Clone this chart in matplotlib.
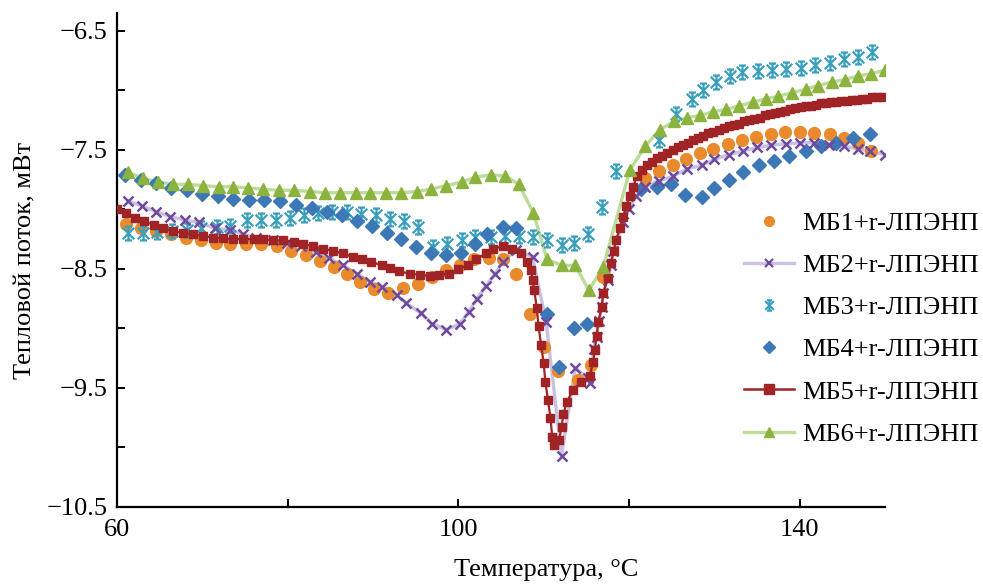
import matplotlib
matplotlib.use("Agg")
import matplotlib.pyplot as plt
from matplotlib.path import Path
from matplotlib.lines import Line2D

plt.rcParams['font.family'] = ['Liberation Serif', 'DejaVu Serif']

# ---------------- data ----------------
labels = ["МБ1+r-ЛПЭНП", "МБ2+r-ЛПЭНП", "МБ3+r-ЛПЭНП",
          "МБ4+r-ЛПЭНП", "МБ5+r-ЛПЭНП", "МБ6+r-ЛПЭНП"]

t1 = [61.1, 62.8, 64.6, 66.3, 68.1, 69.8, 71.6, 73.3, 75.1, 76.9, 78.7, 80.4, 82.1,
      83.8, 85.4, 87.0, 88.5, 90.1, 91.8, 93.5, 95.3, 96.9, 98.5, 100.2, 101.8, 103.6,
      105.2, 106.8, 108.4, 110.0, 111.7, 114.0, 115.5, 116.9, 121.9, 123.5, 125.1,
      126.7, 128.3, 129.9, 131.6, 133.3, 134.9, 136.6, 138.3, 140.0, 141.7, 143.5,
      145.2, 146.8, 148.4]
v1 = [-8.12, -8.16, -8.18, -8.21, -8.24, -8.26, -8.28, -8.29, -8.29, -8.29, -8.31, -8.35,
      -8.38, -8.43, -8.48, -8.54, -8.61, -8.67, -8.70, -8.66, -8.63, -8.57, -8.51, -8.47,
      -8.42, -8.41, -8.42, -8.54, -8.88, -9.16, -9.36, -9.43, -9.31, -8.57, -7.74, -7.68,
      -7.63, -7.58, -7.53, -7.49, -7.45, -7.42, -7.39, -7.37, -7.35, -7.35, -7.36, -7.37,
      -7.40, -7.44, -7.51]

t2 = [61.3, 62.9, 64.6, 66.2, 68.0, 69.6, 71.5, 73.2, 74.8, 76.3, 78.3, 79.9, 81.6,
      83.3, 84.9, 86.5, 88.1, 89.7, 91.1, 92.8, 93.9, 95.6, 96.9, 98.6, 100.2, 101.2,
      102.2, 103.3, 104.3, 105.2, 106.8, 108.7, 110.3, 112.1, 113.7, 115.2, 115.4, 115.9,
      116.2, 116.5, 116.8, 117.0, 117.5, 117.9, 118.1, 119.3, 120.0, 120.8, 121.9, 123.5,
      125.2, 126.8, 128.5, 130.0, 131.7, 133.4, 135.0, 136.7, 138.4, 140.0, 141.7, 143.4,
      145.2, 146.8, 148.2, 150.0]
v2 = [-7.93, -7.97, -8.02, -8.06, -8.09, -8.11, -8.16, -8.17, -8.21, -8.24, -8.26,
      -8.28, -8.31, -8.36, -8.41, -8.47, -8.54, -8.61, -8.65, -8.72, -8.79, -8.87, -8.96,
      -9.01, -8.96, -8.86, -8.75, -8.64, -8.54, -8.44, -8.34, -8.40, -8.95, -10.07, -9.33,
      -9.42, -9.46, -9.17, -9.07, -8.94, -8.82, -8.70, -8.59, -8.47, -8.35, -8.11, -8.00,
      -7.89, -7.81, -7.76, -7.72, -7.66, -7.63, -7.58, -7.54, -7.51, -7.48, -7.46, -7.45,
      -7.44, -7.44, -7.46, -7.47, -7.49, -7.51, -7.54]

t3 = [61.3, 63.0, 64.7, 66.5, 68.2, 69.9, 71.7, 73.3, 75.2, 76.9, 78.6, 80.3, 81.9, 83.6,
      85.2, 86.9, 88.6, 90.3, 92.0, 93.6, 95.3, 97.0, 98.7, 100.4, 102.0, 103.8, 105.5,
      107.1, 108.7, 110.4, 112.1, 113.6, 115.2, 116.8, 118.5, 123.5, 125.5, 127.4, 128.7,
      130.2, 131.8, 133.3, 135.1, 136.8, 138.4, 140.2, 141.8, 143.5, 145.2, 146.8, 148.5]
v3 = [-8.20, -8.20, -8.19, -8.18, -8.17, -8.16, -8.15, -8.14, -8.09, -8.09, -8.09, -8.07,
      -8.05, -8.03, -8.02, -8.02, -8.04, -8.05, -8.08, -8.10, -8.15, -8.32, -8.29, -8.26,
      -8.23, -8.23, -8.22, -8.22, -8.23, -8.26, -8.30, -8.28, -8.21, -7.98, -7.68, -7.42,
      -7.20, -7.07, -7.00, -6.93, -6.88, -6.85, -6.84, -6.83, -6.82, -6.81, -6.79, -6.77,
      -6.74, -6.72, -6.68]

t4 = [60.9, 62.8, 64.6, 66.3, 68.2, 70.0, 71.8, 73.6, 75.5, 77.2, 79.1, 81.0, 82.8, 84.6,
      86.4, 88.1, 89.9, 91.6, 93.3, 95.0, 96.8, 98.5, 100.3, 102.0, 103.4, 105.2, 106.8,
      110.4, 111.8, 113.5, 115.1, 121.4, 123.3, 124.9, 126.6, 128.5, 130.0, 131.7, 133.4,
      135.2, 137.0, 138.8, 140.7, 142.5, 144.3, 146.3, 148.2]
v4 = [-7.71, -7.75, -7.78, -7.82, -7.84, -7.87, -7.89, -7.91, -7.92, -7.92, -7.93, -7.96,
      -7.99, -8.02, -8.05, -8.10, -8.14, -8.20, -8.25, -8.32, -8.37, -8.38, -8.37, -8.29,
      -8.21, -8.15, -8.16, -8.88, -9.32, -9.00, -8.96, -7.83, -7.81, -7.79, -7.88, -7.90,
      -7.82, -7.75, -7.69, -7.63, -7.59, -7.55, -7.51, -7.47, -7.44, -7.40, -7.37]

t5 = [60.0, 61.0, 62.1, 63.2, 64.3, 65.4, 66.6, 67.7, 68.9, 70.1, 71.3, 72.4, 73.6, 74.8,
      76.0, 77.1, 78.3, 79.5, 80.8, 81.8, 83.0, 84.2, 85.3, 86.5, 87.6, 88.7, 89.8, 91.0,
      92.0, 93.1, 94.3, 95.5, 96.7, 97.7, 98.9, 100.0, 101.1, 102.1, 103.2, 104.1, 105.2,
      106.3, 107.4, 108.0, 108.5, 108.7, 108.9, 109.2, 109.4, 109.7, 110.0, 110.2, 110.5,
      110.8, 111.0, 111.2, 111.8, 112.1, 112.3, 112.7, 113.4, 114.4, 115.4, 115.8, 116.0,
      116.2, 116.4, 116.8, 117.0, 117.5, 117.9, 118.2, 118.5, 118.9, 119.3, 119.7, 120.1,
      120.5, 120.9, 121.5, 122.1, 122.7, 123.3, 123.9, 124.5, 125.1, 125.7, 126.3, 126.9,
      127.5, 128.1, 128.7, 129.3, 129.9, 130.5, 131.1, 131.7, 132.3, 132.9, 133.5, 134.1,
      134.7, 135.3, 135.9, 136.5, 137.1, 137.7, 138.3, 138.9, 139.5, 140.1, 140.7, 141.3,
      141.9, 142.5, 143.1, 143.7, 144.3, 144.9, 145.5, 146.1, 146.7, 147.3, 147.9, 148.5,
      149.1, 149.7]
v5 = [-8.00, -8.03, -8.07, -8.10, -8.13, -8.16, -8.18, -8.20, -8.21, -8.22, -8.24, -8.24,
      -8.25, -8.25, -8.25, -8.25, -8.26, -8.26, -8.27, -8.29, -8.31, -8.33, -8.35, -8.37,
      -8.40, -8.42, -8.44, -8.47, -8.49, -8.52, -8.54, -8.55, -8.56, -8.55, -8.54, -8.50,
      -8.47, -8.42, -8.37, -8.33, -8.31, -8.33, -8.37, -8.44, -8.51, -8.59, -8.68, -8.83,
      -8.98, -9.14, -9.29, -9.45, -9.60, -9.75, -9.91, -9.98, -9.94, -9.83, -9.72, -9.62,
      -9.52, -9.45, -9.40, -9.28, -9.18, -9.06, -8.95, -8.82, -8.70, -8.58, -8.45, -8.35,
      -8.26, -8.16, -8.06, -7.97, -7.89, -7.81, -7.72, -7.67, -7.63, -7.60, -7.57, -7.55,
      -7.53, -7.50, -7.48, -7.46, -7.44, -7.42, -7.40, -7.38, -7.36, -7.35, -7.33, -7.32,
      -7.30, -7.29, -7.28, -7.26, -7.25, -7.24, -7.23, -7.21, -7.20, -7.19, -7.18, -7.17,
      -7.16, -7.15, -7.14, -7.13, -7.13, -7.12, -7.11, -7.11, -7.10, -7.10, -7.09, -7.09,
      -7.08, -7.08, -7.07, -7.07, -7.06, -7.06, -7.06]

t6 = [61.3, 63.1, 64.8, 66.6, 68.3, 70.1, 71.9, 73.6, 75.4, 77.1, 79.0, 80.8, 82.6, 84.4,
      86.1, 88.0, 89.7, 91.5, 93.3, 95.1, 96.8, 98.6, 100.4, 102.0, 103.8, 105.5, 107.1,
      108.8, 110.4, 112.1, 113.7, 115.3, 117.0, 120.1, 121.9, 123.6, 125.3, 126.8, 128.3,
      129.9, 131.4, 132.9, 134.5, 136.1, 137.5, 139.1, 140.7, 142.1, 143.8, 145.3, 146.8,
      148.4, 150.0]
v6 = [-7.69, -7.74, -7.77, -7.79, -7.79, -7.80, -7.81, -7.81, -7.82, -7.83, -7.84, -7.84,
      -7.85, -7.86, -7.86, -7.86, -7.86, -7.86, -7.86, -7.85, -7.83, -7.80, -7.77, -7.73,
      -7.71, -7.72, -7.79, -8.03, -8.42, -8.47, -8.47, -8.68, -8.48, -7.67, -7.47, -7.33,
      -7.26, -7.23, -7.21, -7.18, -7.16, -7.13, -7.10, -7.07, -7.05, -7.02, -6.99, -6.96,
      -6.93, -6.91, -6.88, -6.86, -6.83]

x_ticks = [60, 80, 100, 120, 140]
x_tick_labels = ["60", "", "100", "", "140"]
y_ticks = [-10.5, -10.0, -9.5, -9.0, -8.5, -8.0, -7.5, -7.0, -6.5]
y_tick_labels = ["\u221210.5", "", "\u22129.5", "", "\u22128.5", "", "\u22127.5", "", "\u22126.5"]

# ---------------- style ----------------
star = Path([(-1, -1), (1, 1), (-1, 1), (1, -1), (0, -1.2), (0, 1.2),
             (-0.6, 1.2), (0.6, 1.2), (-0.6, -1.2), (0.6, -1.2)],
            [Path.MOVETO, Path.LINETO] * 5)

c_orange = "#e98a2c"
c_purple = "#6f4a9c"
c_lav = "#c9c0e2"
c_teal = "#3a9fbb"
c_blue = "#3c77b6"
c_red = "#a02326"
c_green = "#8db33f"
c_lgreen = "#bcdc98"

fig = plt.figure(figsize=(9.83, 5.87), dpi=100)
ax = fig.add_axes([0.119, 0.1363, 0.7813, 0.8416])

ax.plot(t1, v1, linestyle="none", marker="o", ms=8.5, color=c_orange, mec=c_orange, zorder=3)
ax.plot(t2, v2, linestyle="-", lw=2.4, color=c_lav, zorder=2)
ax.plot(t2, v2, linestyle="none", marker="x", ms=6.5, mew=1.8, color=c_purple, zorder=4)
ax.plot(t3, v3, linestyle="none", marker=star, ms=10, mew=1.6, color=c_teal,
        mfc="none", mec=c_teal, zorder=3)
ax.plot(t4, v4, linestyle="none", marker="D", ms=7.5, color=c_blue, mec=c_blue, zorder=3)
ax.plot(t5, v5, linestyle="-", lw=1.6, marker="s", ms=6.2, color=c_red, mec=c_red, zorder=5)
ax.plot(t6, v6, linestyle="-", lw=2.4, color=c_lgreen, zorder=2)
ax.plot(t6, v6, linestyle="none", marker="^", ms=8, color=c_green, mec=c_green, zorder=6)

ax.set_xlim(60, 150)
ax.set_ylim(-10.5, -6.35)
ax.set_xticks(x_ticks)
ax.set_xticklabels(x_tick_labels)
ax.set_yticks(y_ticks)
ax.set_yticklabels(y_tick_labels)

for s in ["top", "right"]:
    ax.spines[s].set_visible(False)
for s in ["left", "bottom"]:
    ax.spines[s].set_linewidth(1.6)
ax.tick_params(direction="in", length=6, width=1.4, labelsize=19, colors="black")
ax.tick_params(axis="y", pad=7)
ax.tick_params(axis="x", pad=9)

ax.set_xlabel("Температура, °С", fontsize=19)
ax.xaxis.set_label_coords(0.5586, -0.106)
ax.set_ylabel("Тепловой поток, мВт", fontsize=19, labelpad=7)

handles = [
    Line2D([], [], linestyle="none", marker="o", ms=7, color=c_orange),
    Line2D([], [], linestyle="-", lw=2.4, color=c_lav, marker="x", ms=5.5, mew=1.6,
           mec=c_purple, mfc=c_purple),
    Line2D([], [], linestyle="none", marker=star, ms=7.5, mew=1.5, mec=c_teal, mfc="none"),
    Line2D([], [], linestyle="none", marker="D", ms=6.5, color=c_blue),
    Line2D([], [], linestyle="-", lw=1.8, color=c_red, marker="s", ms=6.5),
    Line2D([], [], linestyle="-", lw=2.4, color=c_lgreen, marker="^", ms=7.5,
           mec=c_green, mfc=c_green),
]
leg = fig.legend(handles, labels, loc="upper left", bbox_to_anchor=(0.757, 0.640),
                 frameon=False, fontsize=19, handlelength=1.9, handletextpad=0.3,
                 labelspacing=0.71, borderaxespad=0, borderpad=0)

fig.savefig("out.png", dpi=100)
